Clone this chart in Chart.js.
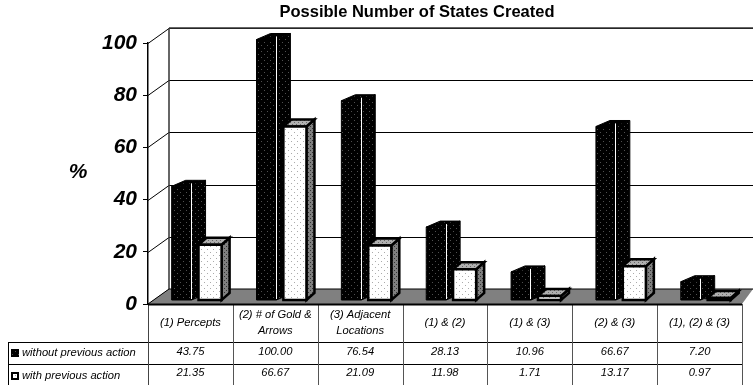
<!DOCTYPE html>
<html>
<head>
<meta charset="utf-8">
<title>Possible Number of States Created</title>
<script src="https://cdn.jsdelivr.net/npm/chart.js"></script>
<style>
  html, body { margin: 0; padding: 0; background: #fff; }
  #wrap { width: 753px; height: 385px; }
</style>
</head>
<body>
<div id="wrap"><canvas id="myChart" width="753" height="385"></canvas></div>
<script>
const categories = [
  '(1) Percepts',
  ['(2) # of Gold &', 'Arrows'],
  ['(3) Adjacent', 'Locations'],
  '(1) & (2)',
  '(1) & (3)',
  '(2) & (3)',
  '(1), (2) & (3)'
];
const withoutPrevious = [43.75, 100.00, 76.54, 28.13, 10.96, 66.67, 7.20];
const withPrevious = [21.35, 66.67, 21.09, 11.98, 1.71, 13.17, 0.97];
const seriesNames = ['without previous action', 'with previous action'];
const yTicks = [0, 20, 40, 60, 80, 100];

const FONT = '"Liberation Sans", Arial, sans-serif';

// dotted fills used on the bar faces
function dots(bg, dot, step) {
  const c = document.createElement('canvas');
  c.width = step * 2;
  c.height = step * 2;
  const g = c.getContext('2d');
  g.fillStyle = bg;
  g.fillRect(0, 0, c.width, c.height);
  g.fillStyle = dot;
  g.fillRect(0, 0, 1, 1);
  g.fillRect(step, step, 1, 1);
  return g.createPattern(c, 'repeat');
}

const ctx = document.getElementById('myChart').getContext('2d');
const fills = [
  { front: dots('#000', '#505050', 3), side: dots('#000', '#505050', 3), top: dots('#000', '#333', 3), depthX: 14, depthY: 6, edge: 1, shiftX: 5.6 },
  { front: dots('#fff', '#aaa', 3), side: dots('#808080', '#333', 2), top: dots('#b0b0b0', '#666', 2), depthX: 8, depthY: 7, edge: 2.5, shiftX: 5.2 }
];

// the walls are pushed back from the axis by this much
const wallX = 21, wallY = 15;
// bars stand a little behind the front edge of the floor
const barShiftY = 3.5;

function line(c, x1, y1, x2, y2) {
  c.beginPath();
  c.moveTo(x1, y1);
  c.lineTo(x2, y2);
  c.stroke();
}

const wallPlugin = {
  id: 'wall',
  beforeDatasetsDraw(chart) {
    const c = chart.ctx;
    const area = chart.chartArea;
    const y = chart.scales.y;
    const rightEdge = chart.width;
    c.save();
    c.strokeStyle = '#000';
    c.lineWidth = 1;
    yTicks.forEach(v => {
      const py = Math.round(y.getPixelForValue(v)) + 0.5;
      line(c, area.left, py, area.left + wallX, py - wallY);
      if (v > 0) line(c, area.left + wallX, py - wallY, rightEdge, py - wallY);
    });
    c.lineWidth = 1.5;
    c.strokeStyle = '#333';
    line(c, area.left + wallX, area.top - wallY, rightEdge, area.top - wallY);
    line(c, area.left + wallX, area.top - wallY, area.left + wallX, area.bottom - wallY);
    // floor
    c.fillStyle = '#808080';
    c.strokeStyle = '#000';
    c.lineWidth = 1;
    c.beginPath();
    c.moveTo(area.left, area.bottom);
    c.lineTo(area.left + wallX, area.bottom - wallY);
    c.lineTo(rightEdge, area.bottom - wallY);
    c.lineTo(area.right, area.bottom);
    c.closePath();
    c.fill();
    line(c, area.left + wallX, area.bottom - wallY, rightEdge, area.bottom - wallY);
    line(c, area.left, area.bottom, area.left + wallX, area.bottom - wallY);
    c.restore();
  },
  // the controller's flat rectangles are replaced by the boxes below
  beforeDatasetDraw() {
    return false;
  },
  // three faces per bar, built from the elements the controller laid out;
  // first series first so the second overlaps it
  afterDatasetsDraw(chart) {
    const c = chart.ctx;
    c.save();
    c.lineJoin = 'miter';
    [0, 1].forEach(index => {
      const style = fills[index];
      chart.getDatasetMeta(index).data.forEach(bar => {
        const p = bar.getProps(['x', 'y', 'base', 'width'], true);
        const l = p.x - p.width / 2 + style.shiftX;
        const r = p.x + p.width / 2 + style.shiftX;
        const t = p.y - barShiftY;
        const b = p.base - barShiftY;
        const dx = style.depthX, dy = style.depthY;
        c.strokeStyle = '#000';
        c.lineWidth = style.edge;
        c.fillStyle = style.side;
        c.beginPath();
        c.moveTo(r, t); c.lineTo(r + dx, t - dy); c.lineTo(r + dx, b - dy); c.lineTo(r, b);
        c.closePath(); c.fill(); c.stroke();
        c.fillStyle = style.top;
        c.beginPath();
        c.moveTo(l, t); c.lineTo(l + dx, t - dy); c.lineTo(r + dx, t - dy); c.lineTo(r, t);
        c.closePath(); c.fill(); c.stroke();
        c.fillStyle = style.front;
        c.beginPath();
        c.rect(l, t, r - l, b - t);
        c.fill(); c.stroke();
        if (index === 0) {
          c.strokeStyle = '#fff';
          c.lineWidth = 1;
          line(c, Math.floor(r) + 0.5, t - 3, Math.floor(r) + 0.5, b - 1);
        }
      });
    });
    c.restore();
  },
  afterDraw(chart) {
    const c = chart.ctx;
    const area = chart.chartArea;
    const xs = chart.scales.x;
    const n = categories.length;
    const step = (area.right - area.left) / n;
    const tableLeft = 8, row1 = 342, row2 = 364, tableBottom = 385;
    c.save();

    c.font = 'bold 16.5px ' + FONT;
    c.fillStyle = '#000';
    c.textAlign = 'center';
    c.textBaseline = 'middle';
    c.fillText('Possible Number of States Created', 417, 12);

    c.font = 'italic bold 21px ' + FONT;
    c.fillText('%', 78, 172);

    // table grid under the axis
    c.strokeStyle = '#000';
    c.lineWidth = 1;
    line(c, tableLeft, row1 + 0.5, area.right, row1 + 0.5);
    line(c, tableLeft, row2 + 0.5, area.right, row2 + 0.5);
    line(c, tableLeft + 0.5, row1, tableLeft + 0.5, tableBottom);
    for (let i = 0; i <= n; i++) {
      const px = Math.round(area.left + step * i) + 0.5;
      c.strokeStyle = i === 0 ? '#444' : '#555';
      line(c, px, area.bottom, px, tableBottom);
    }
    c.strokeStyle = '#000';
    c.lineWidth = 2;
    line(c, area.left, area.bottom + 0.5, area.right, area.bottom + 0.5);

    // data rows
    c.font = 'italic 11.2px ' + FONT;
    c.fillStyle = '#000';
    c.textAlign = 'center';
    c.textBaseline = 'middle';
    [withoutPrevious, withPrevious].forEach((vals, r) => {
      const py = r === 0 ? 352 : 373;
      vals.forEach((v, i) => c.fillText(v.toFixed(2), xs.getPixelForTick(i), py));
    });
    c.textAlign = 'left';
    seriesNames.forEach((name, r) => {
      c.fillText(name, 22, r === 0 ? 353 : 376);
    });

    // legend keys
    c.fillStyle = fills[0].front;
    c.fillRect(11, 349, 8, 8);
    c.fillStyle = '#000';
    c.fillRect(11, 372, 8, 8);
    c.fillStyle = fills[1].front;
    c.fillRect(13, 374, 4, 4);
    c.restore();
  }
};

new Chart(ctx, {
  type: 'bar',
  data: {
    labels: categories,
    datasets: [
      { label: seriesNames[0], data: withoutPrevious, backgroundColor: '#000', barPercentage: 0.69, categoryPercentage: 0.68 },
      { label: seriesNames[1], data: withPrevious, backgroundColor: '#fff', barPercentage: 0.8, categoryPercentage: 0.68 }
    ]
  },
  options: {
    responsive: false,
    animation: false,
    layout: { padding: { top: 43, right: 11, left: 0, bottom: 0 } },
    plugins: { legend: { display: false }, title: { display: false }, tooltip: { enabled: false } },
    scales: {
      x: {
        grid: { display: false },
        border: { display: false },
        afterFit: s => { s.height = 81; },
        ticks: {
          color: '#000',
          maxRotation: 0,
          autoSkip: false,
          padding: 3,
          crossAlign: 'center',
          font: { family: FONT, size: 11.2, style: 'italic', lineHeight: 1.45 }
        }
      },
      y: {
        min: 0,
        max: 100,
        afterFit: s => { s.width = 148; },
        afterBuildTicks: s => { s.ticks = yTicks.map(v => ({ value: v })); },
        border: { display: true, color: '#000', width: 1.5 },
        grid: { drawOnChartArea: false, drawTicks: true, tickLength: 5, color: '#000' },
        ticks: {
          color: '#000',
          padding: 6,
          font: { family: FONT, size: 21, weight: 'bold', style: 'italic' }
        }
      }
    }
  },
  plugins: [wallPlugin]
});
</script>
</body>
</html>
